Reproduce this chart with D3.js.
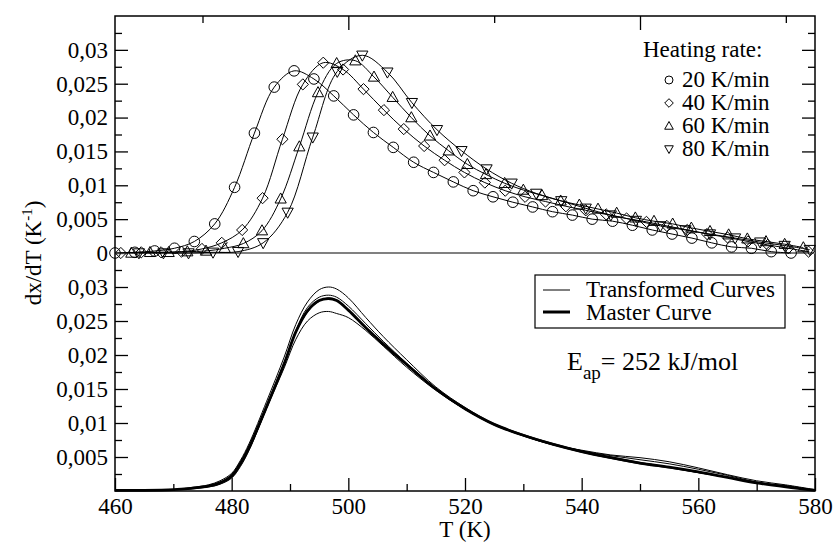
<!DOCTYPE html>
<html><head><meta charset="utf-8">
<script src="https://cdn.jsdelivr.net/npm/d3@7"></script>
<style>
body{margin:0;background:#fff;}
svg{display:block;}
svg text{font-family:"Liberation Serif","Times New Roman",serif !important;fill:#000;}
</style></head>
<body><svg id="c" width="834" height="545"></svg>
<script>
// ---------- DATA ----------
// Upper panel: dx/dT at different heating rates (marker points)
const r20T = [460.0,463.4,466.8,470.2,473.6,477.1,480.5,483.9,487.3,490.7,494.1,497.5,500.9,504.3,507.7,511.2,514.6,518.0,521.4,524.8,528.2,531.6,535.0,538.4,541.8,545.3,548.7,552.1,555.5,558.9,562.3,565.7,569.1,572.5,575.9];
const r20V = [0,0.0001,0.0003,0.0007,0.0017,0.0043,0.0097,0.0177,0.0245,0.0269,0.0257,0.0232,0.0204,0.0178,0.0156,0.0134,0.0119,0.0105,0.0092,0.0083,0.0075,0.0068,0.0061,0.0056,0.0050,0.0047,0.0041,0.0034,0.0028,0.0022,0.0015,0.0009,0.0007,0.0002,0.0000];
const r40T = [461.0,464.5,467.9,471.4,474.9,478.3,481.8,485.3,488.7,492.2,495.7,499.1,502.6,506.1,509.5,513.0,516.5,519.9,523.4,526.9,530.3,533.8,537.3,540.7,544.2,547.7,551.1,554.6,558.1,561.5,565.0,568.5,571.9,575.4,578.9];
const r40V = [0,0.0001,0.0001,0.0002,0.0006,0.0015,0.0034,0.0081,0.0168,0.0249,0.0281,0.0271,0.0242,0.0211,0.0183,0.0158,0.0137,0.0119,0.0104,0.0092,0.0083,0.0076,0.0069,0.0063,0.0057,0.0051,0.0046,0.0040,0.0034,0.0028,0.0023,0.0017,0.0012,0.0007,0.0002];
const r60T = [462.8,466.0,469.2,472.4,475.6,478.8,482.0,485.2,488.4,491.6,494.8,498.0,501.2,504.4,507.6,510.8,514.0,517.2,520.4,523.6,526.8,530.0,533.2,536.4,539.6,542.8,546.0,549.2,552.4,555.6,558.8,562.0,565.2,568.4,571.6,574.8,578.0];
const r60V = [0,0.0001,0.0001,0.0002,0.0003,0.0007,0.0014,0.0033,0.0080,0.0157,0.0237,0.0280,0.0284,0.0260,0.0230,0.0200,0.0173,0.0151,0.0131,0.0116,0.0103,0.0093,0.0085,0.0077,0.0071,0.0065,0.0059,0.0052,0.0047,0.0043,0.0037,0.0032,0.0027,0.0021,0.0017,0.0013,0.0008];
const r80T = [464.1,468.3,472.6,476.8,481.1,485.4,489.6,493.9,498.1,502.4,506.7,510.9,515.2,519.4,523.7,528.0,532.2,536.5,540.7,545.0,549.3,553.5,557.8,562.0,566.3,570.6,574.8,579.1];
const r80V = [0,0,0,0.0001,0.0002,0.0015,0.0060,0.0171,0.0268,0.0292,0.0267,0.0222,0.0182,0.0151,0.0124,0.0103,0.0088,0.0077,0.0066,0.0056,0.0048,0.0040,0.0034,0.0028,0.0022,0.0016,0.0011,0.0005];
const rateLabels = ["20 K/min","40 K/min","60 K/min","80 K/min"];

// Lower panel: transformed curves and master curve
const gridT   = [460,465,470,473,476,478,480,481.5,483,486,489,491,493,495,496.6,498,500,503,506,510,515,520,525,530,535,540,545,550,555,560,565,570,575,580];
const masterV = [0.0001,0.0001,0.0002,0.0004,0.0007,0.0012,0.0022,0.0040,0.0064,0.0124,0.0187,0.0234,0.0265,0.0280,0.0283,0.0280,0.0266,0.0240,0.0216,0.0186,0.0150,0.0121,0.0098,0.0082,0.0069,0.0058,0.0049,0.0041,0.0035,0.0028,0.0020,0.0012,0.0006,0.0001];
const transA  = [0.0001,0.0001,0.0002,0.0005,0.0009,0.0015,0.0026,0.0045,0.0070,0.0132,0.0197,0.0245,0.0278,0.0296,0.0300,0.0297,0.0284,0.0255,0.0227,0.0193,0.0153,0.0123,0.0099,0.0083,0.0070,0.0059,0.0050,0.0042,0.0035,0.0027,0.0020,0.0013,0.0006,0.0001];
const transB  = [0.0001,0.0001,0.0002,0.0004,0.0007,0.0011,0.0020,0.0038,0.0062,0.0122,0.0188,0.0236,0.0270,0.0285,0.0288,0.0285,0.0272,0.0246,0.0220,0.0188,0.0151,0.0121,0.0098,0.0082,0.0069,0.0059,0.0052,0.0046,0.0040,0.0032,0.0023,0.0013,0.0007,0.0001];
const transC  = [0.0001,0.0001,0.0002,0.0004,0.0008,0.0013,0.0024,0.0043,0.0067,0.0127,0.0189,0.0233,0.0263,0.0279,0.0284,0.0281,0.0267,0.0240,0.0215,0.0185,0.0149,0.0120,0.0097,0.0081,0.0068,0.0060,0.0053,0.0049,0.0043,0.0034,0.0024,0.0015,0.0009,0.0002];
const transD  = [0.0001,0.0001,0.0002,0.0003,0.0006,0.0010,0.0019,0.0036,0.0060,0.0122,0.0181,0.0223,0.0250,0.0262,0.0264,0.0261,0.0255,0.0236,0.0213,0.0182,0.0148,0.0120,0.0098,0.0081,0.0068,0.0057,0.0048,0.0040,0.0034,0.0027,0.0020,0.0012,0.0008,0.0001];

// Ticks
const xMajor = [460,480,500,520,540,560,580];
const xMajorLabels = ["460","480","500","520","540","560","580"];
const xMinor = [470,490,510,530,550,570];
const xTopMajor = [500,550];
const xTopMinor = [475,525,575];
const yTopMajor = [0,0.005,0.01,0.015,0.02,0.025,0.03];
const yTopLabels = ["0","0,005","0,01","0,015","0,02","0,025","0,03"];
const yBotMajor = [0.005,0.01,0.015,0.02,0.025,0.03];
const yBotLabels = ["0,005","0,01","0,015","0,02","0,025","0,03"];
const yMinor = [0.0025,0.0075,0.0125,0.0175,0.0225,0.0275,0.0325];

// ---------- CHART ----------
const svg = d3.select("#c");
const L=115, R=815, T=16, M=253, B=491;
const FS = 23;
const x = d3.scaleLinear().domain([460,580]).range([L,R]);
const yT = d3.scaleLinear().domain([0,0.035]).range([M,T]);
const yB = d3.scaleLinear().domain([0,0.035]).range([B,M]);

function styleAxis(g){
  g.attr("font-family",null).attr("font-size",FS);
  g.select(".domain").remove();
  g.selectAll("line").attr("stroke","#000").attr("stroke-width",1.3);
  g.selectAll("text").attr("font-size",FS).attr("fill","#000");
}
function addAxis(axis, tx, ty){
  svg.append("g").attr("transform",`translate(${tx},${ty})`).call(axis).call(styleAxis);
}
// Left axes
addAxis(d3.axisLeft(yT).tickValues(yTopMajor).tickFormat((d,i)=>yTopLabels[i]).tickSize(-13).tickPadding(7), L, 0);
addAxis(d3.axisLeft(yT).tickValues(yMinor).tickFormat("").tickSize(-7), L, 0);
addAxis(d3.axisLeft(yB).tickValues(yBotMajor).tickFormat((d,i)=>yBotLabels[i]).tickSize(-13).tickPadding(7), L, 0);
addAxis(d3.axisLeft(yB).tickValues(yMinor).tickFormat("").tickSize(-7), L, 0);
// Right axes
addAxis(d3.axisRight(yT).tickValues(yTopMajor.slice(1)).tickFormat("").tickSize(-13), R, 0);
addAxis(d3.axisRight(yT).tickValues(yMinor).tickFormat("").tickSize(-7), R, 0);
addAxis(d3.axisRight(yB).tickValues(yBotMajor).tickFormat("").tickSize(-13), R, 0);
addAxis(d3.axisRight(yB).tickValues(yMinor).tickFormat("").tickSize(-7), R, 0);
// Bottom axis
addAxis(d3.axisBottom(x).tickValues(xMajor).tickFormat((d,i)=>xMajorLabels[i]).tickSize(-13).tickPadding(7), 0, B);
addAxis(d3.axisBottom(x).tickValues(xMinor).tickFormat("").tickSize(-7), 0, B);
// Top axis
addAxis(d3.axisTop(x).tickValues(xTopMajor).tickFormat("").tickSize(-14), 0, T);
addAxis(d3.axisTop(x).tickValues(xTopMinor).tickFormat("").tickSize(-7), 0, T);

// Frame
svg.append("rect").attr("x",L).attr("y",T).attr("width",R-L).attr("height",B-T)
  .attr("fill","none").attr("stroke","#000").attr("stroke-width",1.5);
// zero line (gray)
svg.append("line").attr("x1",L).attr("x2",R).attr("y1",yT(0)).attr("y2",yT(0)).attr("stroke","#808080").attr("stroke-width",2);

// Upper panel curves
const curve = d3.curveCatmullRom.alpha(0.5);
const lineT = d3.line().x(d=>x(d[0])).y(d=>yT(d[1])).curve(curve);
const upperSeries = [
  {T:r20T,V:r20V,sym:"circle"},
  {T:r40T,V:r40V,sym:"diamond"},
  {T:r60T,V:r60V,sym:"up"},
  {T:r80T,V:r80V,sym:"down"}
];
function symPath(type, s){
  if(type==="circle") return `M${s},0A${s},${s} 0 1,1 ${-s},0A${s},${s} 0 1,1 ${s},0Z`;
  if(type==="diamond") return `M0,${-s}L${s},0L0,${s}L${-s},0Z`;
  if(type==="up") return `M0,${-s*1.05}L${s},${s*0.75}L${-s},${s*0.75}Z`;
  return `M0,${s*1.05}L${s},${-s*0.75}L${-s},${-s*0.75}Z`;
}
const symSize = {circle:5.3, diamond:5.6, up:5.6, down:5.6};
upperSeries.forEach(s=>{
  const pts = s.T.map((t,i)=>[t,s.V[i]]);
  svg.append("path").datum(pts).attr("d",lineT).attr("fill","none").attr("stroke","#000").attr("stroke-width",1);
  svg.append("g").selectAll("path").data(pts).join("path")
    .attr("transform",d=>`translate(${x(d[0])},${yT(d[1])})`)
    .attr("d",symPath(s.sym,symSize[s.sym]))
    .attr("fill","none").attr("stroke","#000").attr("stroke-width",1);
});

// Upper legend
const lg = svg.append("g").attr("font-size",FS);
lg.append("text").attr("x",643).attr("y",57).text("Heating rate:");
upperSeries.forEach((s,i)=>{
  const yy = 87 + i*23;
  lg.append("path").attr("transform",`translate(669,${yy-7})`).attr("d",symPath(s.sym,s.sym==="circle"?4:4.3))
    .attr("fill","none").attr("stroke","#000").attr("stroke-width",1);
  lg.append("text").attr("x",682).attr("y",yy).text(rateLabels[i]);
});

// Lower panel curves
const lineB = d3.line().x(d=>x(d[0])).y(d=>yB(d[1])).curve(curve);
[transA,transB,transC,transD].forEach(v=>{
  svg.append("path").datum(gridT.map((t,i)=>[t,v[i]])).attr("d",lineB)
    .attr("fill","none").attr("stroke","#000").attr("stroke-width",1);
});
svg.append("path").datum(gridT.map((t,i)=>[t,masterV[i]])).attr("d",lineB)
  .attr("fill","none").attr("stroke","#000").attr("stroke-width",2.8);

// Lower legend
svg.append("rect").attr("x",535).attr("y",275).attr("width",250).attr("height",53)
  .attr("fill","#fff").attr("stroke","#000").attr("stroke-width",1.2);
svg.append("line").attr("x1",543).attr("x2",570).attr("y1",290).attr("y2",290).attr("stroke","#000").attr("stroke-width",1);
svg.append("line").attr("x1",543).attr("x2",570).attr("y1",312).attr("y2",312).attr("stroke","#000").attr("stroke-width",3);
svg.append("text").attr("x",586).attr("y",297).attr("font-size",FS).text("Transformed Curves");
svg.append("text").attr("x",586).attr("y",320).attr("font-size",FS).text("Master Curve");

// E_ap annotation
const et = svg.append("text").attr("x",567).attr("y",370).attr("font-size",26);
et.append("tspan").text("E");
et.append("tspan").attr("font-size",19).attr("dy",9).text("ap");
et.append("tspan").attr("dy",-9).text("= 252 kJ/mol");

// Axis titles
svg.append("text").attr("x",465).attr("y",537).attr("text-anchor","middle").attr("font-size",FS).text("T (K)");
const yt = svg.append("text").attr("transform","translate(41,253) rotate(-90)").attr("text-anchor","middle").attr("font-size",FS);
yt.append("tspan").text("dx/dT (K");
yt.append("tspan").attr("font-size",15).attr("dy",-9).text("-1");
yt.append("tspan").attr("dy",9).text(")");
</script></body></html>
